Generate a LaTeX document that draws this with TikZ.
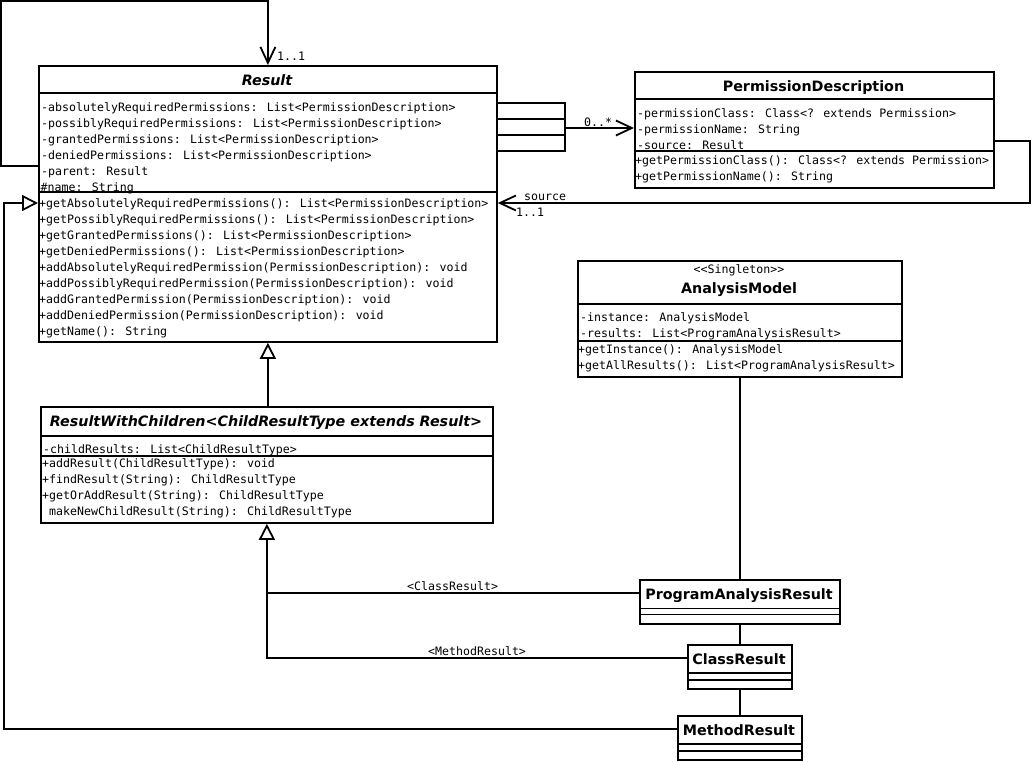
\documentclass[tikz,border=0pt]{standalone}
\usepackage{fontspec}
\usepackage{tikz}
\usetikzlibrary{arrows.meta}
\newfontfamily\umlmonofam{DejaVu Sans Mono}
\newfontfamily\umlsansfam{DejaVu Sans}

\tikzset{
  umlbox/.style={draw, line width=1.8pt, inner sep=0pt, anchor=north west},
  divider/.style={line width=1.8pt},
  member/.style={anchor=base west, inner sep=0pt, font=\umlmonofam\fontsize{11.6}{16}\selectfont},
  stereo/.style={anchor=base, inner sep=0pt, font=\umlmonofam\fontsize{11.6}{16}\selectfont},
  clsname/.style={anchor=base, inner sep=0pt, font=\umlsansfam\bfseries\fontsize{14.3}{17}\selectfont},
  clsnameit/.style={anchor=base, inner sep=0pt, font=\umlsansfam\bfseries\itshape\fontsize{14.3}{17}\selectfont},
  link/.style={line width=1.8pt},
  assoc/.style={line width=1.8pt, -{Straight Barb[length=16pt,width=15pt]}},
  gen/.style={line width=1.8pt, -{Triangle[open,length=16pt,width=16pt]}}
}

\begin{document}
\begin{tikzpicture}[x=1pt,y=1pt,yscale=-1]
\path [fill=white] (0,0) rectangle (1036,761);
\useasboundingbox (0,0) rectangle (1036,761);

%Class Result
\node [umlbox, minimum width=458pt, minimum height=276pt] (result) at (38,65) {};
\draw [divider] (result.west |- 0,93) -- (result.east |- 0,93);
\draw [divider] (result.west |- 0,192) -- (result.east |- 0,192);
% Text Node
\draw (267,85) node [clsnameit] (resultname) {Result};
% Text Node
\draw (41,111) node [member] (resulta1) {-absolutelyRequiredPermissions: List<PermissionDescription>};
\draw (41,127) node [member] (resulta2) {-possiblyRequiredPermissions: List<PermissionDescription>};
\draw (41,143) node [member] (resulta3) {-grantedPermissions: List<PermissionDescription>};
\draw (41,159) node [member] (resulta4) {-deniedPermissions: List<PermissionDescription>};
\draw (41,175) node [member] (resulta5) {-parent: Result};
\draw (40.5,191) node [member] (resulta6) {\#name: String};
% Text Node
\draw (39,207.5) node [member] (resultm1) {+getAbsolutelyRequiredPermissions(): List<PermissionDescription>};
\draw (39,223.5) node [member] (resultm2) {+getPossiblyRequiredPermissions(): List<PermissionDescription>};
\draw (39,239.5) node [member] (resultm3) {+getGrantedPermissions(): List<PermissionDescription>};
\draw (39,255.5) node [member] (resultm4) {+getDeniedPermissions(): List<PermissionDescription>};
\draw (39,271.5) node [member] (resultm5) {+addAbsolutelyRequiredPermission(PermissionDescription): void};
\draw (39,287.5) node [member] (resultm6) {+addPossiblyRequiredPermission(PermissionDescription): void};
\draw (39,303.5) node [member] (resultm7) {+addGrantedPermission(PermissionDescription): void};
\draw (39,319.5) node [member] (resultm8) {+addDeniedPermission(PermissionDescription): void};
\draw (39,335.5) node [member] (resultm9) {+getName(): String};

%Class PermissionDescription
\node [umlbox, minimum width=359pt, minimum height=116pt] (perm) at (634,71) {};
\draw [divider] (perm.west |- 0,99) -- (perm.east |- 0,99);
\draw [divider] (perm.west |- 0,151) -- (perm.east |- 0,151);
% Text Node
\draw (813.5,91) node [clsname] (permname) {PermissionDescription};
\draw (637,117.5) node [member] (perma1) {-permissionClass: Class<? extends Permission>};
\draw (637,133.5) node [member] (perma2) {-permissionName: String};
\draw (637,149.5) node [member] (perma3) {-source: Result};
\draw (635,164.5) node [member] (permm1) {+getPermissionClass(): Class<? extends Permission>};
\draw (635,180.5) node [member] (permm2) {+getPermissionName(): String};

%Class AnalysisModel
\node [umlbox, minimum width=324pt, minimum height=116pt] (model) at (577,260) {};
\draw [divider] (model.west |- 0,304) -- (model.east |- 0,304);
\draw [divider] (model.west |- 0,341) -- (model.east |- 0,341);
% Text Node
\draw (739,273.5) node [stereo] (modelstereo) {<<Singleton>>};
\draw (739,293.5) node [clsname] (modelname) {AnalysisModel};
\draw (580,321) node [member] (modela1) {-instance: AnalysisModel};
\draw (580,337) node [member] (modela2) {-results: List<ProgramAnalysisResult>};
\draw (578,353.5) node [member] (modelm1) {+getInstance(): AnalysisModel};
\draw (578,369.5) node [member] (modelm2) {+getAllResults(): List<ProgramAnalysisResult>};

%Class ResultWithChildren
\node [umlbox, minimum width=452pt, minimum height=116pt] (withkids) at (40,406) {};
\draw [divider] (withkids.west |- 0,436) -- (withkids.east |- 0,436);
\draw [divider] (withkids.west |- 0,456) -- (withkids.east |- 0,456);
% Text Node
\draw (266,426.5) node [clsnameit] (withkidsname) {ResultWithChildren<ChildResultType extends Result>};
\draw (43,453.5) node [member] (withkidsa1) {-childResults: List<ChildResultType>};
\draw (42,467.5) node [member] (withkidsm1) {+addResult(ChildResultType): void};
\draw (42,483.5) node [member] (withkidsm2) {+findResult(String): ChildResultType};
\draw (42,499.5) node [member] (withkidsm3) {+getOrAddResult(String): ChildResultType};
\draw (49,515.5) node [member] (withkidsm4) {makeNewChildResult(String): ChildResultType};

%Class ProgramAnalysisResult
\node [umlbox, minimum width=200pt, minimum height=44pt] (progres) at (639,579) {};
\draw [divider] (progres.west |- 0,608.5) -- (progres.east |- 0,608.5);
\draw [divider] (progres.west |- 0,614.5) -- (progres.east |- 0,614.5);
\draw (739,599.5) node [clsname] (progresname) {ProgramAnalysisResult};

%Class ClassResult
\node [umlbox, minimum width=104pt, minimum height=44pt] (classres) at (687,644) {};
\draw [divider] (classres.west |- 0,673) -- (classres.east |- 0,673);
\draw [divider] (classres.west |- 0,680) -- (classres.east |- 0,680);
\draw (739,664.5) node [clsname] (classresname) {ClassResult};

%Class MethodResult
\node [umlbox, minimum width=124pt, minimum height=44pt] (methres) at (677,715) {};
\draw [divider] (methres.west |- 0,744) -- (methres.east |- 0,744);
\draw [divider] (methres.west |- 0,751) -- (methres.east |- 0,751);
\draw (739,735.5) node [clsname] (methresname) {MethodResult};

%Straight Lines
\coordinate (fork) at (565,128);
\draw [link] (result.east |- 0,103) -| (fork);
\draw [link] (result.east |- 0,119) -| (fork);
\draw [link] (result.east |- 0,135) -| (fork);
\draw [link] (result.east |- 0,151) -| (fork);
\draw [assoc] (fork) -- (perm.west |- fork);
\draw (584,126) node [member] (manylbl) {0..*};

%Straight Lines
\coordinate (srcturn) at (1030,203);
\draw [assoc] (perm.east |- 0,141) -| (srcturn) -- (result.east |- srcturn);
\draw (524,200) node [member] (sourcelbl) {source};
\draw (516,216) node [member] (srconelbl) {1..1};

%Straight Lines
\coordinate (selfturn) at (1,1);
\draw [assoc] (result.west |- 0,166) -| (selfturn) -| (result.north);
\draw (277,60) node [member] (parentlbl) {1..1};

%Straight Lines
\draw [gen] (withkids.north -| result.south) -- (result.south);
\draw [link] (progres.west |- 0,593) -- (withkids.south |- 0,593);
\draw [gen] (classres.west |- 0,658) -| (withkids.south);
\draw (407,590) node [member] (classlbl) {<ClassResult>};
\draw (428,655) node [member] (methodlbl) {<MethodResult>};
\coordinate (genturn) at (4,203);
\draw [gen] (methres.west |- 0,729) -| (genturn) -- (result.west |- genturn);

%Straight Lines
\draw [link] (model.south) -- (progres.north);
\draw [link] (progres.south) -- (classres.north);
\draw [link] (classres.south) -- (methres.north);

\end{tikzpicture}
\end{document}
